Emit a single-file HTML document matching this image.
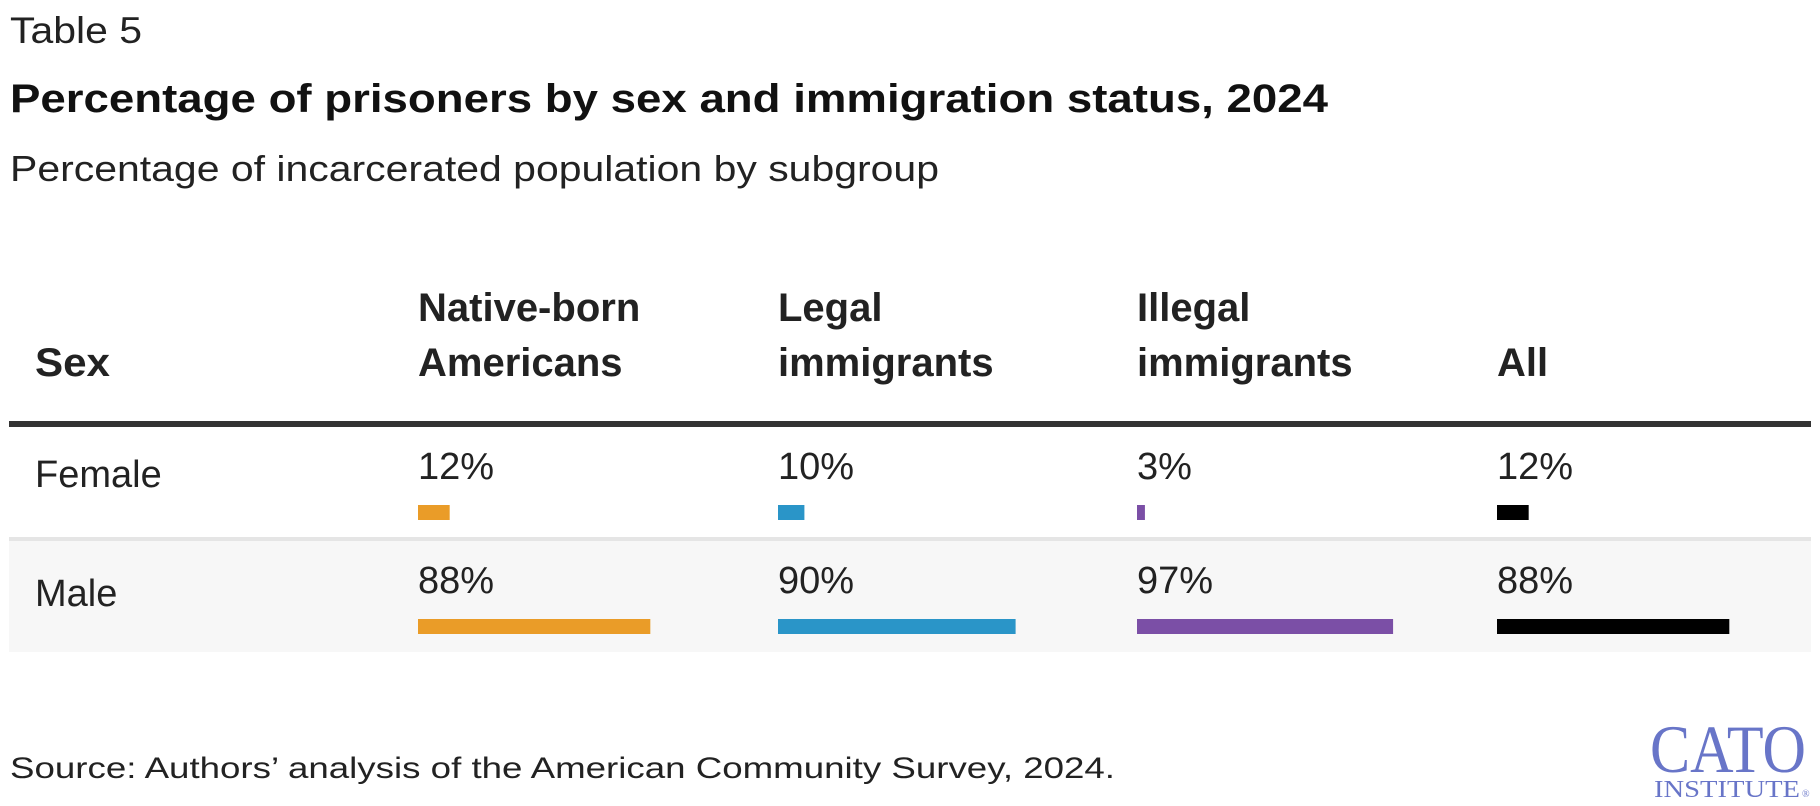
<!DOCTYPE html>
<html><head><meta charset="utf-8"><style>
html,body{margin:0;padding:0;background:#fff;}
svg{display:block;font-family:"Liberation Sans",sans-serif;}
</style></head><body>
<svg width="1820" height="806" viewBox="0 0 1820 806">
<text x="10" y="43" font-size="37" fill="#222" textLength="132" lengthAdjust="spacingAndGlyphs">Table 5</text>
<text x="10" y="112" font-size="40" font-weight="bold" fill="#111" textLength="1318" lengthAdjust="spacingAndGlyphs">Percentage of prisoners by sex and immigration status, 2024</text>
<text x="10" y="181" font-size="36" fill="#222" textLength="929" lengthAdjust="spacingAndGlyphs">Percentage of incarcerated population by subgroup</text>
<g id="hdr" font-size="40" font-weight="bold" fill="#222">
<text x="35" y="376" textLength="75" lengthAdjust="spacingAndGlyphs">Sex</text>
</g>
<rect x="9" y="421" width="1802" height="6" fill="#333"/>
<rect x="9" y="537" width="1802" height="4" fill="#e5e5e5"/>
<rect x="9" y="541" width="1802" height="111" fill="#f7f7f7"/>
<g id="rows"></g>
<text x="10" y="778" font-size="30" fill="#222" textLength="1105" lengthAdjust="spacingAndGlyphs">Source: Authors’ analysis of the American Community Survey, 2024.</text>
<g fill="#6875c8" font-family="Liberation Serif, serif">
<text x="1650" y="772" font-size="68" textLength="156" lengthAdjust="spacingAndGlyphs">CATO</text>
<text x="1654" y="797" font-size="24" textLength="146" lengthAdjust="spacingAndGlyphs">INSTITUTE</text>
<text x="1802" y="797" font-size="10">®</text>
</g>
</svg>
<script>
const columns=["Native-born|Americans","Legal|immigrants","Illegal|immigrants","All"];
const sexes=["Female","Male"];
const female=[12,10,3,12];
const male=[88,90,97,88];
const colors=["#ea9c28","#2a95c8","#7b4fa6","#000000"];
const NS="http://www.w3.org/2000/svg";
const colX=[418,778,1137,1497];
const xScale=v=>v*2.64;
const hdr=document.getElementById('hdr');
const rows=document.getElementById('rows');
columns.forEach((c,i)=>{
  const parts=c.split('|');
  parts.forEach((p,j)=>{
    const t=document.createElementNS(NS,'text');
    t.setAttribute('x',colX[i]);
    t.setAttribute('y',parts.length==2?(j==0?321:376):376);
    t.textContent=p;
    
    
    hdr.appendChild(t);
  });
});
const rowY=[{label:487,val:479,bar:505},{label:606,val:593,bar:619}];
[female,male].forEach((vals,r)=>{
  const l=document.createElementNS(NS,'text');
  l.setAttribute('x',35);l.setAttribute('y',rowY[r].label);
  l.setAttribute('font-size','38');l.setAttribute('fill','#222');
  l.textContent=sexes[r];
  
  
  rows.appendChild(l);
  vals.forEach((v,i)=>{
    const t=document.createElementNS(NS,'text');
    t.setAttribute('x',colX[i]);t.setAttribute('y',rowY[r].val);
    t.setAttribute('font-size','38');t.setAttribute('fill','#222');
    t.textContent=v+'%';
    
    
    rows.appendChild(t);
    const b=document.createElementNS(NS,'rect');
    b.setAttribute('x',colX[i]);b.setAttribute('y',rowY[r].bar);
    b.setAttribute('width',xScale(v));b.setAttribute('height',15);
    b.setAttribute('fill',colors[i]);
    
    
    rows.appendChild(b);
  });
});
</script>
</body></html>
